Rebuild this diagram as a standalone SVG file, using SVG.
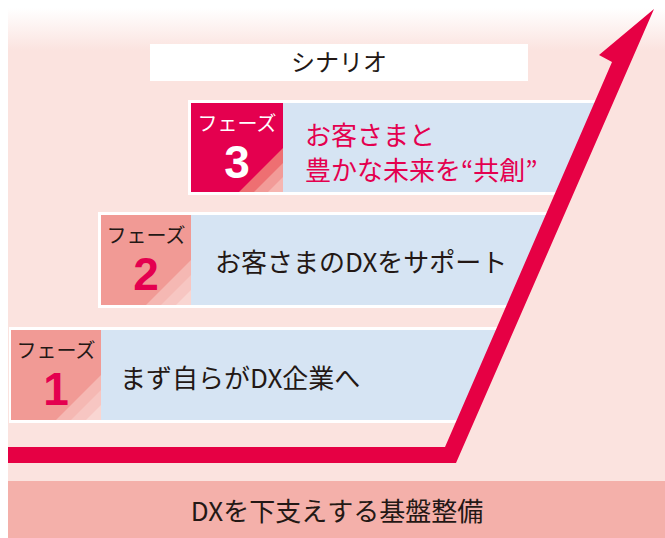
<svg xmlns="http://www.w3.org/2000/svg" width="665" height="538" viewBox="0 0 665 538">
<defs>
<linearGradient id="bgGrad" x1="0" y1="0" x2="0" y2="1">
<stop offset="0" stop-color="#ffffff"/>
<stop offset="0.09" stop-color="#fbe3df"/>
<stop offset="1" stop-color="#fbe3df"/>
</linearGradient>
<style>
.jp{font-family:"Noto Sans CJK JP","Noto Sans",sans-serif;}
.main{font-size:26px;fill:#231815;}
.red{fill:#e4004f;}
.lbl{font-size:20px;text-anchor:middle;}
.num{font-family:"Liberation Sans",Arial,sans-serif;font-weight:bold;font-size:46px;text-anchor:middle;}
.panel{fill:#d6e4f3;}
.border{fill:#ffffff;}
</style>
</defs>
<rect x="0" y="0" width="665" height="538" fill="#ffffff"/>
<rect x="8" y="8" width="657" height="474" fill="url(#bgGrad)"/>
<rect id="base" x="8" y="481" width="657" height="57" fill="#f4b0aa"/>
<text class="jp main" x="337" y="521" text-anchor="middle">DXを下支えする基盤整備</text>

<g id="scenario">
<rect x="150" y="44" width="378" height="37" fill="#ffffff"/>
<text class="jp" x="339" y="71" font-size="24" text-anchor="middle" fill="#231815">シナリオ</text>
</g>

<g id="phase3">
<polygon class="border" points="188,100 600,100 559,195 188,195"/>
<polygon class="panel" points="283,103 600,103 560,192 283,192"/>
<rect x="191" y="103" width="92" height="89" fill="#e4004f"/>
<polygon points="283,148 283,192 239,192" fill="#ee6f72"/>
<polygon points="283,163 283,192 254,192" fill="#f29b98"/>
<polygon points="283,177 283,192 268,192" fill="#f6b6b1"/>
<text class="jp lbl" x="237" y="131" fill="#ffffff">フェーズ</text>
<text class="num" x="237" y="178" fill="#ffffff">3</text>
<text class="jp main red" x="305" y="145">お客さまと</text>
<text class="jp main red" x="305" y="180">豊かな未来を“共創”</text>
</g>

<g id="phase2">
<polygon class="border" points="98,212 552,212 510,308 98,308"/>
<polygon class="panel" points="191,215 552,215 511,305 191,305"/>
<rect x="101" y="215" width="90" height="90" fill="#f19a95"/>
<polygon points="191,260 191,305 146,305" fill="#f5b8b3"/>
<polygon points="191,275 191,305 161,305" fill="#f7c6c2"/>
<polygon points="191,290 191,305 176,305" fill="#f9d6d2"/>
<text class="jp lbl" x="146" y="243" fill="#231815">フェーズ</text>
<text class="num red" x="146" y="290">2</text>
<text class="jp main" x="215" y="272">お客さまのDXをサポート</text>
</g>

<g id="phase1">
<polygon class="border" points="9,327 501,327 460,423 9,423"/>
<polygon class="panel" points="101,330 501,330 461,420 101,420"/>
<rect x="11" y="330" width="90" height="90" fill="#f19a95"/>
<polygon points="101,375 101,420 56,420" fill="#f5b8b3"/>
<polygon points="101,390 101,420 71,420" fill="#f7c6c2"/>
<polygon points="101,405 101,420 86,420" fill="#f9d6d2"/>
<text class="jp lbl" x="56" y="358" fill="#231815">フェーズ</text>
<text class="num red" x="56" y="405">1</text>
<text class="jp main" x="120" y="388">まず自らがDX企業へ</text>
</g>

<g id="connectors">
<polygon points="8,447 445,447 612,62 599,55 654,9 456,463 8,463" fill="#e60044"/>
</g>
</svg>
